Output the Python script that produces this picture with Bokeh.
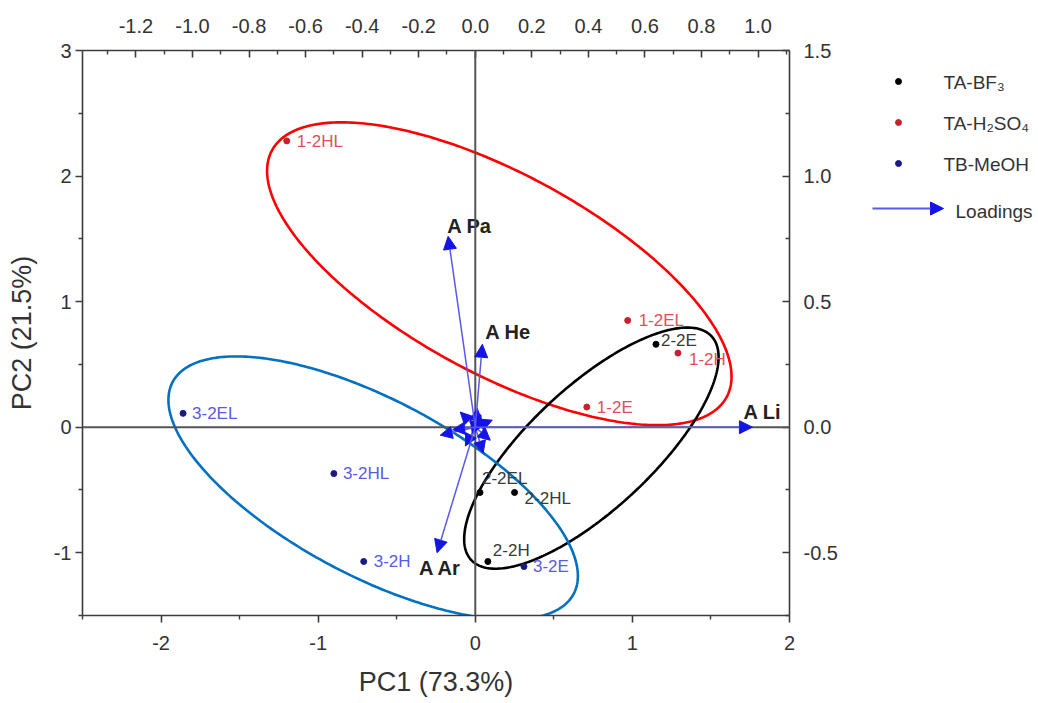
import numpy as np
from bokeh.plotting import figure
from bokeh.layouts import row
from bokeh.models import (ColumnDataSource, Range1d, LinearAxis, Span, Arrow, NormalHead,
                          FixedTicker, PrintfTickFormatter)
from bokeh.core.properties import value
from bokeh.embed import file_html
from bokeh.resources import INLINE

# ---- PCA scores (PC1, PC2) ----
bf3_names = ["2-2E", "2-2EL", "2-2HL", "2-2H"]
bf3_pc1 = [1.15, 0.03, 0.25, 0.08]
bf3_pc2 = [0.66, -0.52, -0.52, -1.07]

h2so4_names = ["1-2HL", "1-2EL", "1-2H", "1-2E"]
h2so4_pc1 = [-1.20, 0.97, 1.29, 0.71]
h2so4_pc2 = [2.28, 0.85, 0.59, 0.16]

meoh_names = ["3-2EL", "3-2HL", "3-2H", "3-2E"]
meoh_pc1 = [-1.86, -0.90, -0.71, 0.31]
meoh_pc2 = [0.11, -0.37, -1.07, -1.11]

# ---- loadings (top / right axes) ----
load_names = ["A Pa", "A He", "A Li", "A Ar"]
load_x = [-0.096, 0.025, 0.98, -0.135]
load_y = [0.76, 0.33, 0.0, -0.50]

# remaining small loadings clustered at the origin
minor_load_x = [-0.124, 0.007, 0.060, 0.028, -0.035, -0.053, 0.053, -0.018, 0.020, -0.080]
minor_load_y = [-0.032, 0.075, 0.028, -0.103, -0.075, 0.060, -0.052, 0.028, 0.050, -0.010]

# ---- group ellipses: centre, semi-axes, rotation (deg) ----
ell_groups = ["TA-H2SO4", "TA-BF3", "TB-MeOH"]
ell_cx = [0.153, 0.739, -0.650]
ell_cy = [1.222, -0.167, -0.484]
ell_a = [1.756, 1.179, 1.536]
ell_b = [0.745, 0.433, 0.660]
ell_angle = [-36.6, 51.4, -35.9]

# ---- axis ticks ----
pc1_ticks = [-2, -1, 0, 1, 2]
pc1_minor = [-2.5, -1.5, -0.5, 0.5, 1.5]
pc2_ticks = [-1, 0, 1, 2, 3]
pc2_minor = [-1.5, -0.5, 0.5, 1.5, 2.5]
top_ticks = [-1.2, -1.0, -0.8, -0.6, -0.4, -0.2, 0.0, 0.2, 0.4, 0.6, 0.8, 1.0]
top_minor = [-1.3, -1.1, -0.9, -0.7, -0.5, -0.3, -0.1, 0.1, 0.3, 0.5, 0.7, 0.9, 1.1]
right_ticks = [-0.5, 0.0, 0.5, 1.0, 1.5]
right_minor = [-0.75, -0.25, 0.25, 0.75, 1.25]

# ---- legend entries ----
legend_labels = ["TA-BF\u2083", "TA-H\u2082SO\u2084", "TB-MeOH"]
legend_colors = ["#000000", "#c8202c", "#1a1a80"]
loadings_label = "Loadings"

FONT = "Liberation Sans"
AXIS_COLOR = "#3c3c3c"
TEXT_COLOR = "#333333"
X_RANGE = (-2.5, 2.0)
Y_RANGE = (-1.5, 3.0)
LOAD_SX = 1.8   # biplot scaling between score and loading axes
LOAD_SY = 2.0
LOAD_LINE = "#5a5ae8"
LOAD_HEAD = "#1414e6"
BORDER_TOP, BORDER_BOTTOM = 50, 88

p = figure(width=850, height=703,
           x_range=Range1d(*X_RANGE), y_range=Range1d(*Y_RANGE),
           x_axis_type=None, y_axis_type=None,
           output_backend="svg", toolbar_location=None,
           min_border_left=82, min_border_right=61,
           min_border_top=BORDER_TOP, min_border_bottom=BORDER_BOTTOM)
p.outline_line_color = None
p.extra_x_ranges = {"load_x": Range1d(X_RANGE[0] / LOAD_SX, X_RANGE[1] / LOAD_SX)}
p.extra_y_ranges = {"load_y": Range1d(Y_RANGE[0] / LOAD_SY, Y_RANGE[1] / LOAD_SY)}


def style_axis(ax, outward, standoff, fmt):
    ax.axis_line_color = AXIS_COLOR
    ax.axis_line_width = 1.6
    ax.major_tick_line_color = AXIS_COLOR
    ax.minor_tick_line_color = AXIS_COLOR
    ax.major_tick_line_width = 1.6
    ax.minor_tick_line_width = 1.4
    if outward:
        ax.major_tick_out, ax.major_tick_in = 7, 0
        ax.minor_tick_out, ax.minor_tick_in = 4, 0
    else:
        ax.major_tick_out, ax.major_tick_in = 0, 7
        ax.minor_tick_out, ax.minor_tick_in = 0, 4
    ax.major_label_text_font = FONT
    ax.major_label_text_font_size = "20px"
    ax.major_label_text_color = TEXT_COLOR
    ax.major_label_standoff = standoff
    ax.formatter = PrintfTickFormatter(format=fmt)
    ax.axis_label_text_font = FONT
    ax.axis_label_text_font_style = "normal"
    ax.axis_label_text_font_size = "27px"
    ax.axis_label_text_color = TEXT_COLOR


bottom = LinearAxis(ticker=FixedTicker(ticks=pc1_ticks, minor_ticks=pc1_minor),
                    axis_label="PC1 (73.3%)")
style_axis(bottom, True, 13, "%d")
bottom.axis_label_standoff = 14
p.add_layout(bottom, "below")

left = LinearAxis(ticker=FixedTicker(ticks=pc2_ticks, minor_ticks=pc2_minor),
                  axis_label="PC2 (21.5%)")
style_axis(left, True, 4, "%d")
left.axis_label_standoff = 14
p.add_layout(left, "left")

top = LinearAxis(x_range_name="load_x",
                 ticker=FixedTicker(ticks=top_ticks, minor_ticks=top_minor))
style_axis(top, False, 18, "%.1f")
p.add_layout(top, "above")

right = LinearAxis(y_range_name="load_y",
                   ticker=FixedTicker(ticks=right_ticks, minor_ticks=right_minor))
style_axis(right, False, 14, "%.1f")
p.add_layout(right, "right")

# zero lines
p.add_layout(Span(location=0, dimension="height", line_color="#555555", line_width=2))
p.add_layout(Span(location=0, dimension="width", line_color="#555555", line_width=2))

# loading vectors
minor_src = ColumnDataSource(dict(x=minor_load_x, y=minor_load_y))
p.add_layout(Arrow(end=NormalHead(size=12, fill_color=LOAD_HEAD, line_color=LOAD_HEAD),
                   x_start=0, y_start=0, x_end="x", y_end="y", source=minor_src,
                   x_range_name="load_x", y_range_name="load_y",
                   line_color=LOAD_LINE, line_width=1.5))
load_src = ColumnDataSource(dict(x=load_x, y=load_y, name=load_names,
                                 dx=[-1, 3, -9, -18], dy=[-10, -12, -15, 15]))
p.add_layout(Arrow(end=NormalHead(size=13, fill_color=LOAD_HEAD, line_color=LOAD_HEAD),
                   x_start=0, y_start=0, x_end="x", y_end="y", source=load_src,
                   x_range_name="load_x", y_range_name="load_y",
                   line_color=LOAD_LINE, line_width=1.5))
p.text(x="x", y="y", text="name", source=load_src, x_offset="dx", y_offset="dy",
       x_range_name="load_x", y_range_name="load_y",
       text_font=value(FONT), text_font_size="20px", text_font_style="bold",
       text_color="#222222", text_align="left", text_baseline="middle")

# group ellipses
ell_colors = ["#ff0000", "#000000", "#0070c0"]
t = np.linspace(0, 2 * np.pi, 361)
for cx, cy, a, b, ang, col in zip(ell_cx, ell_cy, ell_a, ell_b, ell_angle, ell_colors):
    th = np.radians(ang)
    ex = cx + a * np.cos(t) * np.cos(th) - b * np.sin(t) * np.sin(th)
    ey = cy + a * np.cos(t) * np.sin(th) + b * np.sin(t) * np.cos(th)
    p.line(ex, ey, line_color=col, line_width=2.6)

# score points and their labels
groups = [
    (bf3_names, bf3_pc1, bf3_pc2, legend_colors[0], "#3a3a3a",
     [5, 2, 10, 5], [-4, -14, 6, -11]),
    (h2so4_names, h2so4_pc1, h2so4_pc2, legend_colors[1], "#e0505c",
     [10, 11, 11, 10], [1, 0, 6, 0]),
    (meoh_names, meoh_pc1, meoh_pc2, legend_colors[2], "#5a5ae0",
     [9, 9, 10, 9], [0, 0, 0, 0]),
]
for names, xs, ys, dot_col, lab_col, dxs, dys in groups:
    src = ColumnDataSource(dict(x=xs, y=ys, name=names, dx=dxs, dy=dys))
    p.scatter("x", "y", source=src, size=6, color=dot_col)
    p.text(x="x", y="y", text="name", source=src, x_offset="dx", y_offset="dy",
           text_font=value(FONT), text_font_size="17px", text_color=lab_col,
           text_align="left", text_baseline="middle")

# ---- legend panel: frame shares the plot's top/bottom borders,
#      coordinates are page pixels (y downward) ----
lg = figure(width=188, height=703, x_range=Range1d(0, 188),
            y_range=Range1d(703 - BORDER_BOTTOM, BORDER_TOP),
            x_axis_type=None, y_axis_type=None, output_backend="svg",
            toolbar_location=None, min_border_left=0, min_border_right=0,
            min_border_top=BORDER_TOP, min_border_bottom=BORDER_BOTTOM)
lg.outline_line_color = None
lg.grid.visible = False
item_y = [81, 122, 163]
lg.scatter(x=[48] * 3, y=item_y, size=6, color=legend_colors)
lg.text(x=[93] * 3, y=[y + 1 for y in item_y], text=legend_labels,
        text_font=value(FONT), text_font_size="19px", text_color=TEXT_COLOR,
        text_align="left", text_baseline="middle")
lg.add_layout(Arrow(end=NormalHead(size=13, fill_color=LOAD_HEAD, line_color=LOAD_HEAD),
                    x_start=22, y_start=208, x_end=93, y_end=208,
                    line_color=LOAD_LINE, line_width=1.8))
lg.text(x=[105], y=[211], text=[loadings_label],
        text_font=value(FONT), text_font_size="19px", text_color=TEXT_COLOR,
        text_align="left", text_baseline="middle")

layout = row(p, lg, spacing=0)
open("out.html", "w").write(file_html(layout, INLINE))
